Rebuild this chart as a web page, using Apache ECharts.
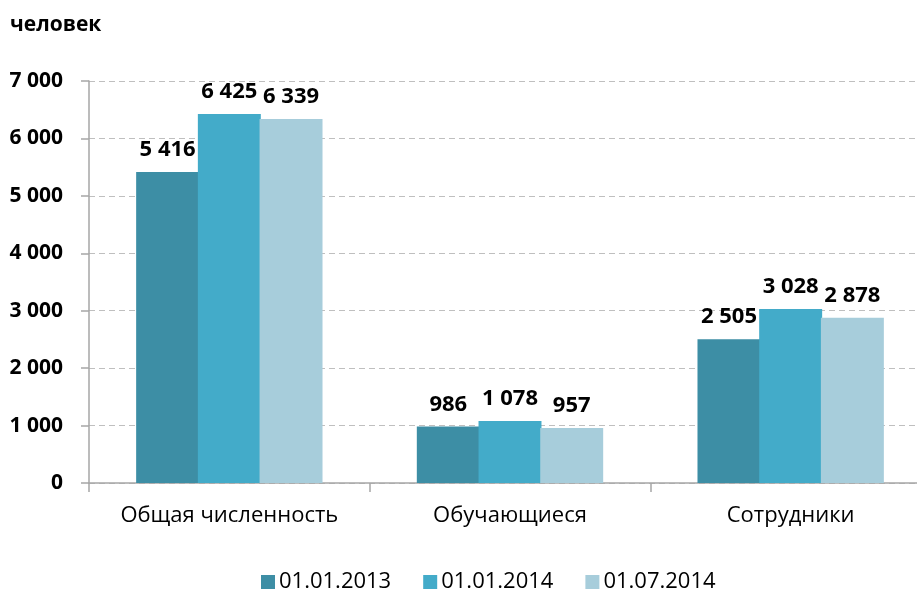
<!DOCTYPE html>
<html><head><meta charset="utf-8">
<script src="https://cdn.jsdelivr.net/npm/echarts@6/dist/echarts.min.js"></script>
<style>html,body{margin:0;padding:0;background:#fff;overflow:hidden}#c{width:931px;height:589px}</style>
</head><body><div id="c"></div>
<script>
const categories = ['Общая численность', 'Обучающиеся', 'Сотрудники'];
const seriesNames = ['01.01.2013', '01.01.2014', '01.07.2014'];
const s2013 = [5416, 986, 2505];
const s2014a = [6425, 1078, 3028];
const s2014b = [6339, 957, 2878];
const colors = ['#3D8EA5', '#43ABC9', '#A7CDDB'];
const unitLabel = 'человек';

const fmt = v => String(v).replace(/\B(?=(\d{3})+(?!\d))/g, ' ');
const FONT = 'Open Sans';
const chart = echarts.init(document.getElementById('c'), null, {renderer: 'canvas'});
const mk = (name, data, color) => ({
  name, type: 'bar', data, barGap: '-2%', barCategoryGap: '33.6%',
  itemStyle: {color},
  label: {show: true, position: 'top', distance: 11, formatter: p => fmt(p.value),
    fontFamily: FONT, fontWeight: 'bold', fontSize: 22, color: '#000'}
});
chart.setOption({
  animation: false,
  title: {text: unitLabel, left: 10, top: 15, padding: 0,
    textStyle: {fontFamily: FONT, fontWeight: 'bold', fontSize: 21, color: '#000'}},
  grid: {left: 89, top: 81, bottom: 106, right: 0, containLabel: false},
  legend: {bottom: 0, top: 571, left: 261, padding: 0, itemWidth: 14, itemHeight: 14, icon: 'rect', itemGap: 32,
    data: seriesNames,
    textStyle: {fontFamily: FONT, fontSize: 22, color: '#000', padding: [0, 0, 0, -1]}},
  xAxis: {type: 'category', data: categories,
    axisLine: {lineStyle: {color: '#A6A6A6', width: 1.5}},
    axisTick: {show: true, length: 9, lineStyle: {color: '#A6A6A6', width: 1.5}},
    axisLabel: {margin: 22, fontFamily: FONT, fontSize: 22, color: '#000', interval: 0}},
  yAxis: {type: 'value', min: 0, max: 7000, interval: 1000,
    axisLine: {show: true, lineStyle: {color: '#A6A6A6', width: 1.5}},
    axisTick: {show: true, length: 8, lineStyle: {color: '#A6A6A6', width: 1.5}},
    splitLine: {lineStyle: {color: '#BFBFBF', type: [6, 4]}},
    axisLabel: {margin: 26, formatter: v => fmt(v), fontFamily: FONT, fontWeight: 'bold', fontSize: 21, color: '#000'}},
  series: [mk(seriesNames[0], s2013, colors[0]), mk(seriesNames[1], s2014a, colors[1]), mk(seriesNames[2], s2014b, colors[2])]
});
</script></body></html>
